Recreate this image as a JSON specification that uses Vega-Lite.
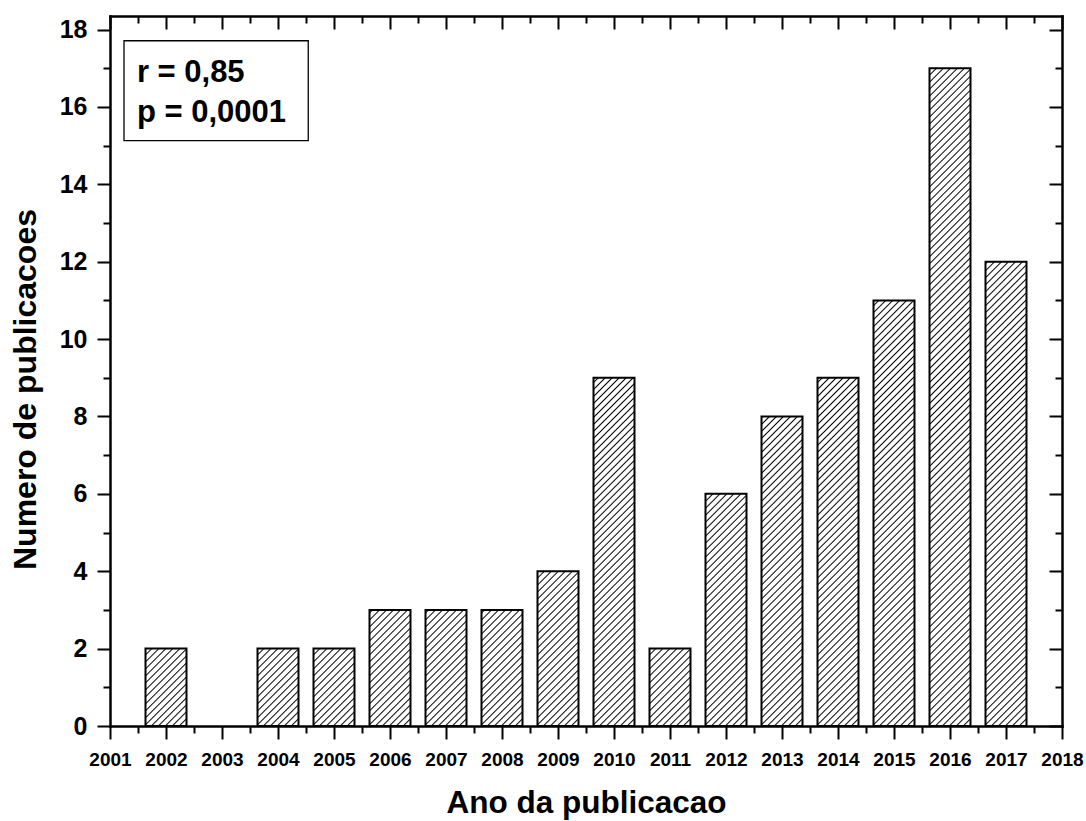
{
"$schema": "https://vega.github.io/schema/vega-lite/v6.json",
"width": 952,
"height": 710,
"autosize": {"type": "none"},
"padding": {"left": 110, "top": 16, "right": 24, "bottom": 95},
"background": "white",
"config": {
  "view": {"stroke": null},
  "font": "Liberation Sans",
  "axis": {"domainColor": "black", "domainWidth": 2.5, "domainCap": "square", "tickColor": "black", "tickWidth": 2, "grid": false, "zindex": 1, "labelFont": "Liberation Sans", "labelFontWeight": "bold", "labelColor": "black", "titleFont": "Liberation Sans", "titleFontWeight": "bold", "titleColor": "black"}
},
"data": {"values": [
  {"year": 2002, "n": 2},
  {"year": 2004, "n": 2},
  {"year": 2005, "n": 2},
  {"year": 2006, "n": 3},
  {"year": 2007, "n": 3},
  {"year": 2008, "n": 3},
  {"year": 2009, "n": 4},
  {"year": 2010, "n": 9},
  {"year": 2011, "n": 2},
  {"year": 2012, "n": 6},
  {"year": 2013, "n": 8},
  {"year": 2014, "n": 9},
  {"year": 2015, "n": 11},
  {"year": 2016, "n": 17},
  {"year": 2017, "n": 12}
]},
"resolve": {"axis": {"x": "independent", "y": "independent"}},
"layer": [
  {
    "mark": {"type": "bar", "width": 41, "strokeWidth": 0, "fill": {"gradient": "linear", "x1": 0, "y1": 0, "x2": 0.06595, "y2": 1.0578, "stops": [
{"offset":0,"color":"#000"},{"offset":0.002,"color":"#fff"},
{"offset":0.008,"color":"#fff"},{"offset":0.01,"color":"#000"},{"offset":0.012,"color":"#fff"},
{"offset":0.018,"color":"#fff"},{"offset":0.02,"color":"#000"},{"offset":0.022,"color":"#fff"},
{"offset":0.028,"color":"#fff"},{"offset":0.03,"color":"#000"},{"offset":0.032,"color":"#fff"},
{"offset":0.038,"color":"#fff"},{"offset":0.04,"color":"#000"},{"offset":0.042,"color":"#fff"},
{"offset":0.048,"color":"#fff"},{"offset":0.05,"color":"#000"},{"offset":0.052,"color":"#fff"},
{"offset":0.058,"color":"#fff"},{"offset":0.06,"color":"#000"},{"offset":0.062,"color":"#fff"},
{"offset":0.068,"color":"#fff"},{"offset":0.07,"color":"#000"},{"offset":0.072,"color":"#fff"},
{"offset":0.078,"color":"#fff"},{"offset":0.08,"color":"#000"},{"offset":0.082,"color":"#fff"},
{"offset":0.088,"color":"#fff"},{"offset":0.09,"color":"#000"},{"offset":0.092,"color":"#fff"},
{"offset":0.098,"color":"#fff"},{"offset":0.1,"color":"#000"},{"offset":0.102,"color":"#fff"},
{"offset":0.108,"color":"#fff"},{"offset":0.11,"color":"#000"},{"offset":0.112,"color":"#fff"},
{"offset":0.118,"color":"#fff"},{"offset":0.12,"color":"#000"},{"offset":0.122,"color":"#fff"},
{"offset":0.128,"color":"#fff"},{"offset":0.13,"color":"#000"},{"offset":0.132,"color":"#fff"},
{"offset":0.138,"color":"#fff"},{"offset":0.14,"color":"#000"},{"offset":0.142,"color":"#fff"},
{"offset":0.148,"color":"#fff"},{"offset":0.15,"color":"#000"},{"offset":0.152,"color":"#fff"},
{"offset":0.158,"color":"#fff"},{"offset":0.16,"color":"#000"},{"offset":0.162,"color":"#fff"},
{"offset":0.168,"color":"#fff"},{"offset":0.17,"color":"#000"},{"offset":0.172,"color":"#fff"},
{"offset":0.178,"color":"#fff"},{"offset":0.18,"color":"#000"},{"offset":0.182,"color":"#fff"},
{"offset":0.188,"color":"#fff"},{"offset":0.19,"color":"#000"},{"offset":0.192,"color":"#fff"},
{"offset":0.198,"color":"#fff"},{"offset":0.2,"color":"#000"},{"offset":0.202,"color":"#fff"},
{"offset":0.208,"color":"#fff"},{"offset":0.21,"color":"#000"},{"offset":0.212,"color":"#fff"},
{"offset":0.218,"color":"#fff"},{"offset":0.22,"color":"#000"},{"offset":0.222,"color":"#fff"},
{"offset":0.228,"color":"#fff"},{"offset":0.23,"color":"#000"},{"offset":0.232,"color":"#fff"},
{"offset":0.238,"color":"#fff"},{"offset":0.24,"color":"#000"},{"offset":0.242,"color":"#fff"},
{"offset":0.248,"color":"#fff"},{"offset":0.25,"color":"#000"},{"offset":0.252,"color":"#fff"},
{"offset":0.258,"color":"#fff"},{"offset":0.26,"color":"#000"},{"offset":0.262,"color":"#fff"},
{"offset":0.268,"color":"#fff"},{"offset":0.27,"color":"#000"},{"offset":0.272,"color":"#fff"},
{"offset":0.278,"color":"#fff"},{"offset":0.28,"color":"#000"},{"offset":0.282,"color":"#fff"},
{"offset":0.288,"color":"#fff"},{"offset":0.29,"color":"#000"},{"offset":0.292,"color":"#fff"},
{"offset":0.298,"color":"#fff"},{"offset":0.3,"color":"#000"},{"offset":0.302,"color":"#fff"},
{"offset":0.308,"color":"#fff"},{"offset":0.31,"color":"#000"},{"offset":0.312,"color":"#fff"},
{"offset":0.318,"color":"#fff"},{"offset":0.32,"color":"#000"},{"offset":0.322,"color":"#fff"},
{"offset":0.328,"color":"#fff"},{"offset":0.33,"color":"#000"},{"offset":0.332,"color":"#fff"},
{"offset":0.338,"color":"#fff"},{"offset":0.34,"color":"#000"},{"offset":0.342,"color":"#fff"},
{"offset":0.348,"color":"#fff"},{"offset":0.35,"color":"#000"},{"offset":0.352,"color":"#fff"},
{"offset":0.358,"color":"#fff"},{"offset":0.36,"color":"#000"},{"offset":0.362,"color":"#fff"},
{"offset":0.368,"color":"#fff"},{"offset":0.37,"color":"#000"},{"offset":0.372,"color":"#fff"},
{"offset":0.378,"color":"#fff"},{"offset":0.38,"color":"#000"},{"offset":0.382,"color":"#fff"},
{"offset":0.388,"color":"#fff"},{"offset":0.39,"color":"#000"},{"offset":0.392,"color":"#fff"},
{"offset":0.398,"color":"#fff"},{"offset":0.4,"color":"#000"},{"offset":0.402,"color":"#fff"},
{"offset":0.408,"color":"#fff"},{"offset":0.41,"color":"#000"},{"offset":0.412,"color":"#fff"},
{"offset":0.418,"color":"#fff"},{"offset":0.42,"color":"#000"},{"offset":0.422,"color":"#fff"},
{"offset":0.428,"color":"#fff"},{"offset":0.43,"color":"#000"},{"offset":0.432,"color":"#fff"},
{"offset":0.438,"color":"#fff"},{"offset":0.44,"color":"#000"},{"offset":0.442,"color":"#fff"},
{"offset":0.448,"color":"#fff"},{"offset":0.45,"color":"#000"},{"offset":0.452,"color":"#fff"},
{"offset":0.458,"color":"#fff"},{"offset":0.46,"color":"#000"},{"offset":0.462,"color":"#fff"},
{"offset":0.468,"color":"#fff"},{"offset":0.47,"color":"#000"},{"offset":0.472,"color":"#fff"},
{"offset":0.478,"color":"#fff"},{"offset":0.48,"color":"#000"},{"offset":0.482,"color":"#fff"},
{"offset":0.488,"color":"#fff"},{"offset":0.49,"color":"#000"},{"offset":0.492,"color":"#fff"},
{"offset":0.498,"color":"#fff"},{"offset":0.5,"color":"#000"},{"offset":0.502,"color":"#fff"},
{"offset":0.508,"color":"#fff"},{"offset":0.51,"color":"#000"},{"offset":0.512,"color":"#fff"},
{"offset":0.518,"color":"#fff"},{"offset":0.52,"color":"#000"},{"offset":0.522,"color":"#fff"},
{"offset":0.528,"color":"#fff"},{"offset":0.53,"color":"#000"},{"offset":0.532,"color":"#fff"},
{"offset":0.538,"color":"#fff"},{"offset":0.54,"color":"#000"},{"offset":0.542,"color":"#fff"},
{"offset":0.548,"color":"#fff"},{"offset":0.55,"color":"#000"},{"offset":0.552,"color":"#fff"},
{"offset":0.558,"color":"#fff"},{"offset":0.56,"color":"#000"},{"offset":0.562,"color":"#fff"},
{"offset":0.568,"color":"#fff"},{"offset":0.57,"color":"#000"},{"offset":0.572,"color":"#fff"},
{"offset":0.578,"color":"#fff"},{"offset":0.58,"color":"#000"},{"offset":0.582,"color":"#fff"},
{"offset":0.588,"color":"#fff"},{"offset":0.59,"color":"#000"},{"offset":0.592,"color":"#fff"},
{"offset":0.598,"color":"#fff"},{"offset":0.6,"color":"#000"},{"offset":0.602,"color":"#fff"},
{"offset":0.608,"color":"#fff"},{"offset":0.61,"color":"#000"},{"offset":0.612,"color":"#fff"},
{"offset":0.618,"color":"#fff"},{"offset":0.62,"color":"#000"},{"offset":0.622,"color":"#fff"},
{"offset":0.628,"color":"#fff"},{"offset":0.63,"color":"#000"},{"offset":0.632,"color":"#fff"},
{"offset":0.638,"color":"#fff"},{"offset":0.64,"color":"#000"},{"offset":0.642,"color":"#fff"},
{"offset":0.648,"color":"#fff"},{"offset":0.65,"color":"#000"},{"offset":0.652,"color":"#fff"},
{"offset":0.658,"color":"#fff"},{"offset":0.66,"color":"#000"},{"offset":0.662,"color":"#fff"},
{"offset":0.668,"color":"#fff"},{"offset":0.67,"color":"#000"},{"offset":0.672,"color":"#fff"},
{"offset":0.678,"color":"#fff"},{"offset":0.68,"color":"#000"},{"offset":0.682,"color":"#fff"},
{"offset":0.688,"color":"#fff"},{"offset":0.69,"color":"#000"},{"offset":0.692,"color":"#fff"},
{"offset":0.698,"color":"#fff"},{"offset":0.7,"color":"#000"},{"offset":0.702,"color":"#fff"},
{"offset":0.708,"color":"#fff"},{"offset":0.71,"color":"#000"},{"offset":0.712,"color":"#fff"},
{"offset":0.718,"color":"#fff"},{"offset":0.72,"color":"#000"},{"offset":0.722,"color":"#fff"},
{"offset":0.728,"color":"#fff"},{"offset":0.73,"color":"#000"},{"offset":0.732,"color":"#fff"},
{"offset":0.738,"color":"#fff"},{"offset":0.74,"color":"#000"},{"offset":0.742,"color":"#fff"},
{"offset":0.748,"color":"#fff"},{"offset":0.75,"color":"#000"},{"offset":0.752,"color":"#fff"},
{"offset":0.758,"color":"#fff"},{"offset":0.76,"color":"#000"},{"offset":0.762,"color":"#fff"},
{"offset":0.768,"color":"#fff"},{"offset":0.77,"color":"#000"},{"offset":0.772,"color":"#fff"},
{"offset":0.778,"color":"#fff"},{"offset":0.78,"color":"#000"},{"offset":0.782,"color":"#fff"},
{"offset":0.788,"color":"#fff"},{"offset":0.79,"color":"#000"},{"offset":0.792,"color":"#fff"},
{"offset":0.798,"color":"#fff"},{"offset":0.8,"color":"#000"},{"offset":0.802,"color":"#fff"},
{"offset":0.808,"color":"#fff"},{"offset":0.81,"color":"#000"},{"offset":0.812,"color":"#fff"},
{"offset":0.818,"color":"#fff"},{"offset":0.82,"color":"#000"},{"offset":0.822,"color":"#fff"},
{"offset":0.828,"color":"#fff"},{"offset":0.83,"color":"#000"},{"offset":0.832,"color":"#fff"},
{"offset":0.838,"color":"#fff"},{"offset":0.84,"color":"#000"},{"offset":0.842,"color":"#fff"},
{"offset":0.848,"color":"#fff"},{"offset":0.85,"color":"#000"},{"offset":0.852,"color":"#fff"},
{"offset":0.858,"color":"#fff"},{"offset":0.86,"color":"#000"},{"offset":0.862,"color":"#fff"},
{"offset":0.868,"color":"#fff"},{"offset":0.87,"color":"#000"},{"offset":0.872,"color":"#fff"},
{"offset":0.878,"color":"#fff"},{"offset":0.88,"color":"#000"},{"offset":0.882,"color":"#fff"},
{"offset":0.888,"color":"#fff"},{"offset":0.89,"color":"#000"},{"offset":0.892,"color":"#fff"},
{"offset":0.898,"color":"#fff"},{"offset":0.9,"color":"#000"},{"offset":0.902,"color":"#fff"},
{"offset":0.908,"color":"#fff"},{"offset":0.91,"color":"#000"},{"offset":0.912,"color":"#fff"},
{"offset":0.918,"color":"#fff"},{"offset":0.92,"color":"#000"},{"offset":0.922,"color":"#fff"},
{"offset":0.928,"color":"#fff"},{"offset":0.93,"color":"#000"},{"offset":0.932,"color":"#fff"},
{"offset":0.938,"color":"#fff"},{"offset":0.94,"color":"#000"},{"offset":0.942,"color":"#fff"},
{"offset":0.948,"color":"#fff"},{"offset":0.95,"color":"#000"},{"offset":0.952,"color":"#fff"},
{"offset":0.958,"color":"#fff"},{"offset":0.96,"color":"#000"},{"offset":0.962,"color":"#fff"},
{"offset":0.968,"color":"#fff"},{"offset":0.97,"color":"#000"},{"offset":0.972,"color":"#fff"},
{"offset":0.978,"color":"#fff"},{"offset":0.98,"color":"#000"},{"offset":0.982,"color":"#fff"},
{"offset":0.988,"color":"#fff"},{"offset":0.99,"color":"#000"},{"offset":0.992,"color":"#fff"},
{"offset":0.998,"color":"#fff"},{"offset":1,"color":"#000"}
    ]}},
    "encoding": {
      "x": {"field": "year", "type": "quantitative", "scale": {"domain": [2001, 2018], "nice": false, "zero": false, "padding": 0}, "axis": null},
      "y": {"datum": 17, "type": "quantitative", "scale": {"domain": [0, 18.35], "nice": false}, "axis": null},
      "y2": {"datum": 0}
    }
  },
  {
    "mark": {"type": "bar", "width": 45, "fill": "white", "strokeWidth": 0},
    "encoding": {
      "x": {"field": "year", "type": "quantitative", "axis": {"orient": "top", "values": [2001,2001.5,2002,2002.5,2003,2003.5,2004,2004.5,2005,2005.5,2006,2006.5,2007,2007.5,2008,2008.5,2009,2009.5,2010,2010.5,2011,2011.5,2012,2012.5,2013,2013.5,2014,2014.5,2015,2015.5,2016,2016.5,2017,2017.5,2018], "labels": false, "title": null, "tickSize": {"condition": {"test": "datum.value % 1 === 0", "value": -13}, "value": -7}}},
      "y": {"field": "n", "type": "quantitative", "axis": {"orient": "right", "values": [0,1,2,3,4,5,6,7,8,9,10,11,12,13,14,15,16,17,18], "labels": false, "title": null, "tickSize": {"condition": {"test": "datum.value % 2 === 0", "value": -13}, "value": -7}}},
      "y2": {"datum": 17.05}
    }
  },
  {
    "mark": {"type": "bar", "width": 41, "fill": "transparent", "stroke": "black", "strokeWidth": 2},
    "encoding": {
      "x": {"field": "year", "type": "quantitative", "axis": {"orient": "bottom", "values": [2001,2001.5,2002,2002.5,2003,2003.5,2004,2004.5,2005,2005.5,2006,2006.5,2007,2007.5,2008,2008.5,2009,2009.5,2010,2010.5,2011,2011.5,2012,2012.5,2013,2013.5,2014,2014.5,2015,2015.5,2016,2016.5,2017,2017.5,2018], "labelExpr": "datum.value % 1 === 0 ? format(datum.value, 'd') : ''", "tickSize": {"condition": {"test": "datum.value % 1 === 0", "value": 13}, "value": 7}, "labelFontSize": 19, "labelBaseline": "alphabetic", "labelPadding": 26, "labelFlush": false, "labelOverlap": false, "title": "Ano da publicacao", "titleFontSize": 31.5, "titleBaseline": "alphabetic", "titleY": 86, "titleX": 476}},
      "y": {"field": "n", "type": "quantitative", "stack": null, "axis": {"orient": "left", "values": [0,1,2,3,4,5,6,7,8,9,10,11,12,13,14,15,16,17,18], "labelExpr": "datum.value % 2 === 0 ? format(datum.value, 'd') : ''", "tickSize": {"condition": {"test": "datum.value % 2 === 0", "value": 13}, "value": 7}, "labelFontSize": 25, "labelPadding": 10, "labelFlush": false, "labelOverlap": false, "title": "Numero de publicacoes", "titleFontSize": 32, "titleAngle": -90, "titleAlign": "center", "titleBaseline": "alphabetic", "titleX": -75, "titleY": 373}}
    }
  },
  {
    "data": {"values": [{}]},
    "mark": {"type": "rect", "fill": "white", "stroke": "black", "strokeWidth": 1.3},
    "encoding": {
      "x": {"datum": 2001.25, "type": "quantitative", "axis": null},
      "x2": {"datum": 2004.54},
      "y": {"datum": 17.71, "type": "quantitative", "axis": null},
      "y2": {"datum": 15.13}
    }
  },
  {
    "data": {"values": [{}]},
    "mark": {"type": "text", "text": ["r = 0,85", "p = 0,0001"], "lineHeight": 40, "align": "left", "baseline": "alphabetic", "font": "Liberation Sans", "fontSize": 31, "fontWeight": "bold", "color": "black"},
    "encoding": {
      "x": {"datum": 2001.48, "type": "quantitative", "axis": null},
      "y": {"datum": 16.645, "type": "quantitative", "axis": null}
    }
  }
]
}
